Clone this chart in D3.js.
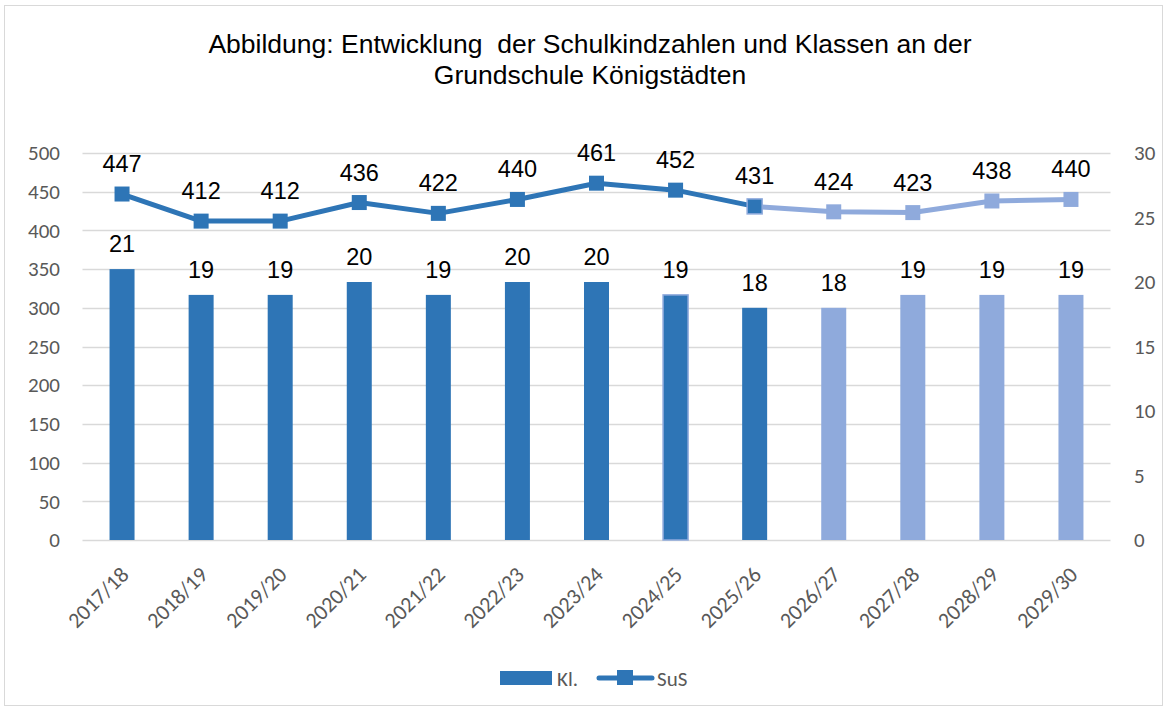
<!DOCTYPE html>
<html>
<head>
<meta charset="utf-8">
<script src="https://cdn.jsdelivr.net/npm/d3@7"></script>
<style>
  body { margin: 0; background: #fff; }
  svg { display: block; }
</style>
</head>
<body>
<script>
// data
const years = ["2017/18","2018/19","2019/20","2020/21","2021/22","2022/23","2023/24","2024/25","2025/26","2026/27","2027/28","2028/29","2029/30"];
const klassen = [21,19,19,20,19,20,20,19,18,18,19,19,19];
const schueler = [447,412,412,436,422,440,461,452,431,424,423,438,440];
const leftTicks = [0,50,100,150,200,250,300,350,400,450,500];
const rightTicks = [0,5,10,15,20,25,30];
const lastActual = 8; // index of 2025/26, afterwards forecast

const width = 1168, height = 711;
const dark = "#2E75B6", light = "#8FAADC";

const svg = d3.select("body").append("svg")
  .attr("width", width)
  .attr("height", height);

// frame
svg.append("rect")
  .attr("x", 4.5).attr("y", 5.5)
  .attr("width", 1158).attr("height", 700)
  .attr("fill", "#fff")
  .attr("stroke", "#d9d9d9");

// title
const title = svg.append("text")
  .attr("text-anchor", "middle")
  .attr("font-family", "Liberation Sans, Arial, sans-serif")
  .attr("font-size", 26.5)
  .attr("fill", "#000")
  .style("white-space", "pre");
title.append("tspan").attr("x", 590).attr("y", 53).text("Abbildung: Entwicklung  der Schulkindzahlen und Klassen an der");
title.append("tspan").attr("x", 590).attr("y", 84).text("Grundschule Königstädten");

const xScale = d3.scaleBand()
  .domain(years)
  .range([82.5, 1110.5]);

const yLeft = d3.scaleLinear().domain([0, 500]).range([540, 153]);
const yRight = d3.scaleLinear().domain([0, 30]).range([540, 153]);

const tickFont = "Carlito, Lato, 'Open Sans', sans-serif";

// gridlines
svg.append("g")
  .selectAll("line")
  .data(leftTicks)
  .enter()
  .append("line")
  .attr("x1", 82.5).attr("x2", 1110.5)
  .attr("y1", d => Math.round(yLeft(d)) + 0.5)
  .attr("y2", d => Math.round(yLeft(d)) + 0.5)
  .attr("stroke", "#d9d9d9")
  .attr("stroke-width", 1.3);

// left axis
const leftAxis = svg.append("g")
  .attr("transform", "translate(82,0)")
  .call(d3.axisLeft(yLeft).tickValues(leftTicks).tickSize(0).tickPadding(22));
leftAxis.select(".domain").remove();
leftAxis.selectAll("text")
  .attr("font-family", tickFont)
  .attr("font-size", 21)
  .attr("fill", "#595959");

// right axis
const rightAxis = svg.append("g")
  .attr("transform", "translate(1111,0)")
  .call(d3.axisRight(yRight).tickValues(rightTicks).tickSize(0).tickPadding(23));
rightAxis.select(".domain").remove();
rightAxis.selectAll("text")
  .attr("font-family", tickFont)
  .attr("font-size", 21)
  .attr("fill", "#595959");

// x axis
const xAxis = svg.append("g")
  .attr("transform", "translate(0,540)")
  .call(d3.axisBottom(xScale).tickSize(0).tickPadding(0));
xAxis.select(".domain").remove();
xAxis.selectAll("text")
  .attr("font-family", tickFont)
  .attr("font-size", 22)
  .attr("fill", "#595959")
  .attr("text-anchor", "end")
  .attr("dy", null)
  .attr("y", 0)
  .attr("transform", "translate(8,36) rotate(-45)");

// bars
const barW = 25;
svg.append("g")
  .selectAll("rect")
  .data(klassen)
  .enter()
  .append("rect")
  .attr("x", (d, i) => xScale(years[i]) + xScale.bandwidth() / 2 - barW / 2)
  .attr("y", d => yRight(d))
  .attr("width", barW)
  .attr("height", d => 540 - yRight(d))
  .attr("fill", (d, i) => i <= lastActual ? dark : light)
  .attr("stroke", (d, i) => i === 7 ? light : "none")
  .attr("stroke-width", 1.5);

svg.append("g")
  .selectAll("text")
  .data(klassen)
  .enter()
  .append("text")
  .attr("x", (d, i) => xScale(years[i]) + xScale.bandwidth() / 2)
  .attr("y", d => yRight(d) - 17)
  .attr("text-anchor", "middle")
  .attr("font-family", "Liberation Sans, Arial, sans-serif")
  .attr("font-size", 23.5)
  .attr("fill", "#000")
  .text(d => d);

// line
const cx = i => xScale(years[i]) + xScale.bandwidth() / 2;
const pts = schueler.map((v, i) => [cx(i), yLeft(v)]);
const line = d3.line();

svg.append("path")
  .attr("d", line(pts.slice(lastActual)))
  .attr("fill", "none")
  .attr("stroke", light)
  .attr("stroke-width", 5)
  .attr("stroke-linejoin", "round")
  .attr("stroke-linecap", "round");

svg.append("path")
  .attr("d", line(pts.slice(0, lastActual + 1)))
  .attr("fill", "none")
  .attr("stroke", dark)
  .attr("stroke-width", 5)
  .attr("stroke-linejoin", "round")
  .attr("stroke-linecap", "round");

const ms = 15;
svg.append("g")
  .selectAll("rect")
  .data(schueler)
  .enter()
  .append("rect")
  .attr("x", (d, i) => cx(i) - ms / 2)
  .attr("y", d => yLeft(d) - ms / 2)
  .attr("width", ms)
  .attr("height", ms)
  .attr("fill", (d, i) => i <= lastActual ? dark : light)
  .attr("stroke", (d, i) => i === lastActual ? light : "none")
  .attr("stroke-width", 1.5);

svg.append("g")
  .selectAll("text")
  .data(schueler)
  .enter()
  .append("text")
  .attr("x", (d, i) => cx(i))
  .attr("y", d => yLeft(d) - 22)
  .attr("text-anchor", "middle")
  .attr("font-family", "Liberation Sans, Arial, sans-serif")
  .attr("font-size", 23.5)
  .attr("fill", "#000")
  .text(d => d);

// legend
const legend = svg.append("g");
legend.append("rect")
  .attr("x", 500).attr("y", 671)
  .attr("width", 52).attr("height", 14)
  .attr("fill", dark);
legend.append("text")
  .attr("x", 557).attr("y", 686)
  .attr("font-family", tickFont)
  .attr("font-size", 21)
  .attr("fill", "#595959")
  .text("Kl.");
legend.append("line")
  .attr("x1", 599).attr("x2", 652)
  .attr("y1", 678).attr("y2", 678)
  .attr("stroke", dark)
  .attr("stroke-width", 5)
  .attr("stroke-linecap", "round");
legend.append("rect")
  .attr("x", 617).attr("y", 670)
  .attr("width", 16).attr("height", 15)
  .attr("fill", dark);
legend.append("text")
  .attr("x", 657).attr("y", 686)
  .attr("font-family", tickFont)
  .attr("font-size", 21)
  .attr("fill", "#595959")
  .text("SuS");
</script>
</body>
</html>
